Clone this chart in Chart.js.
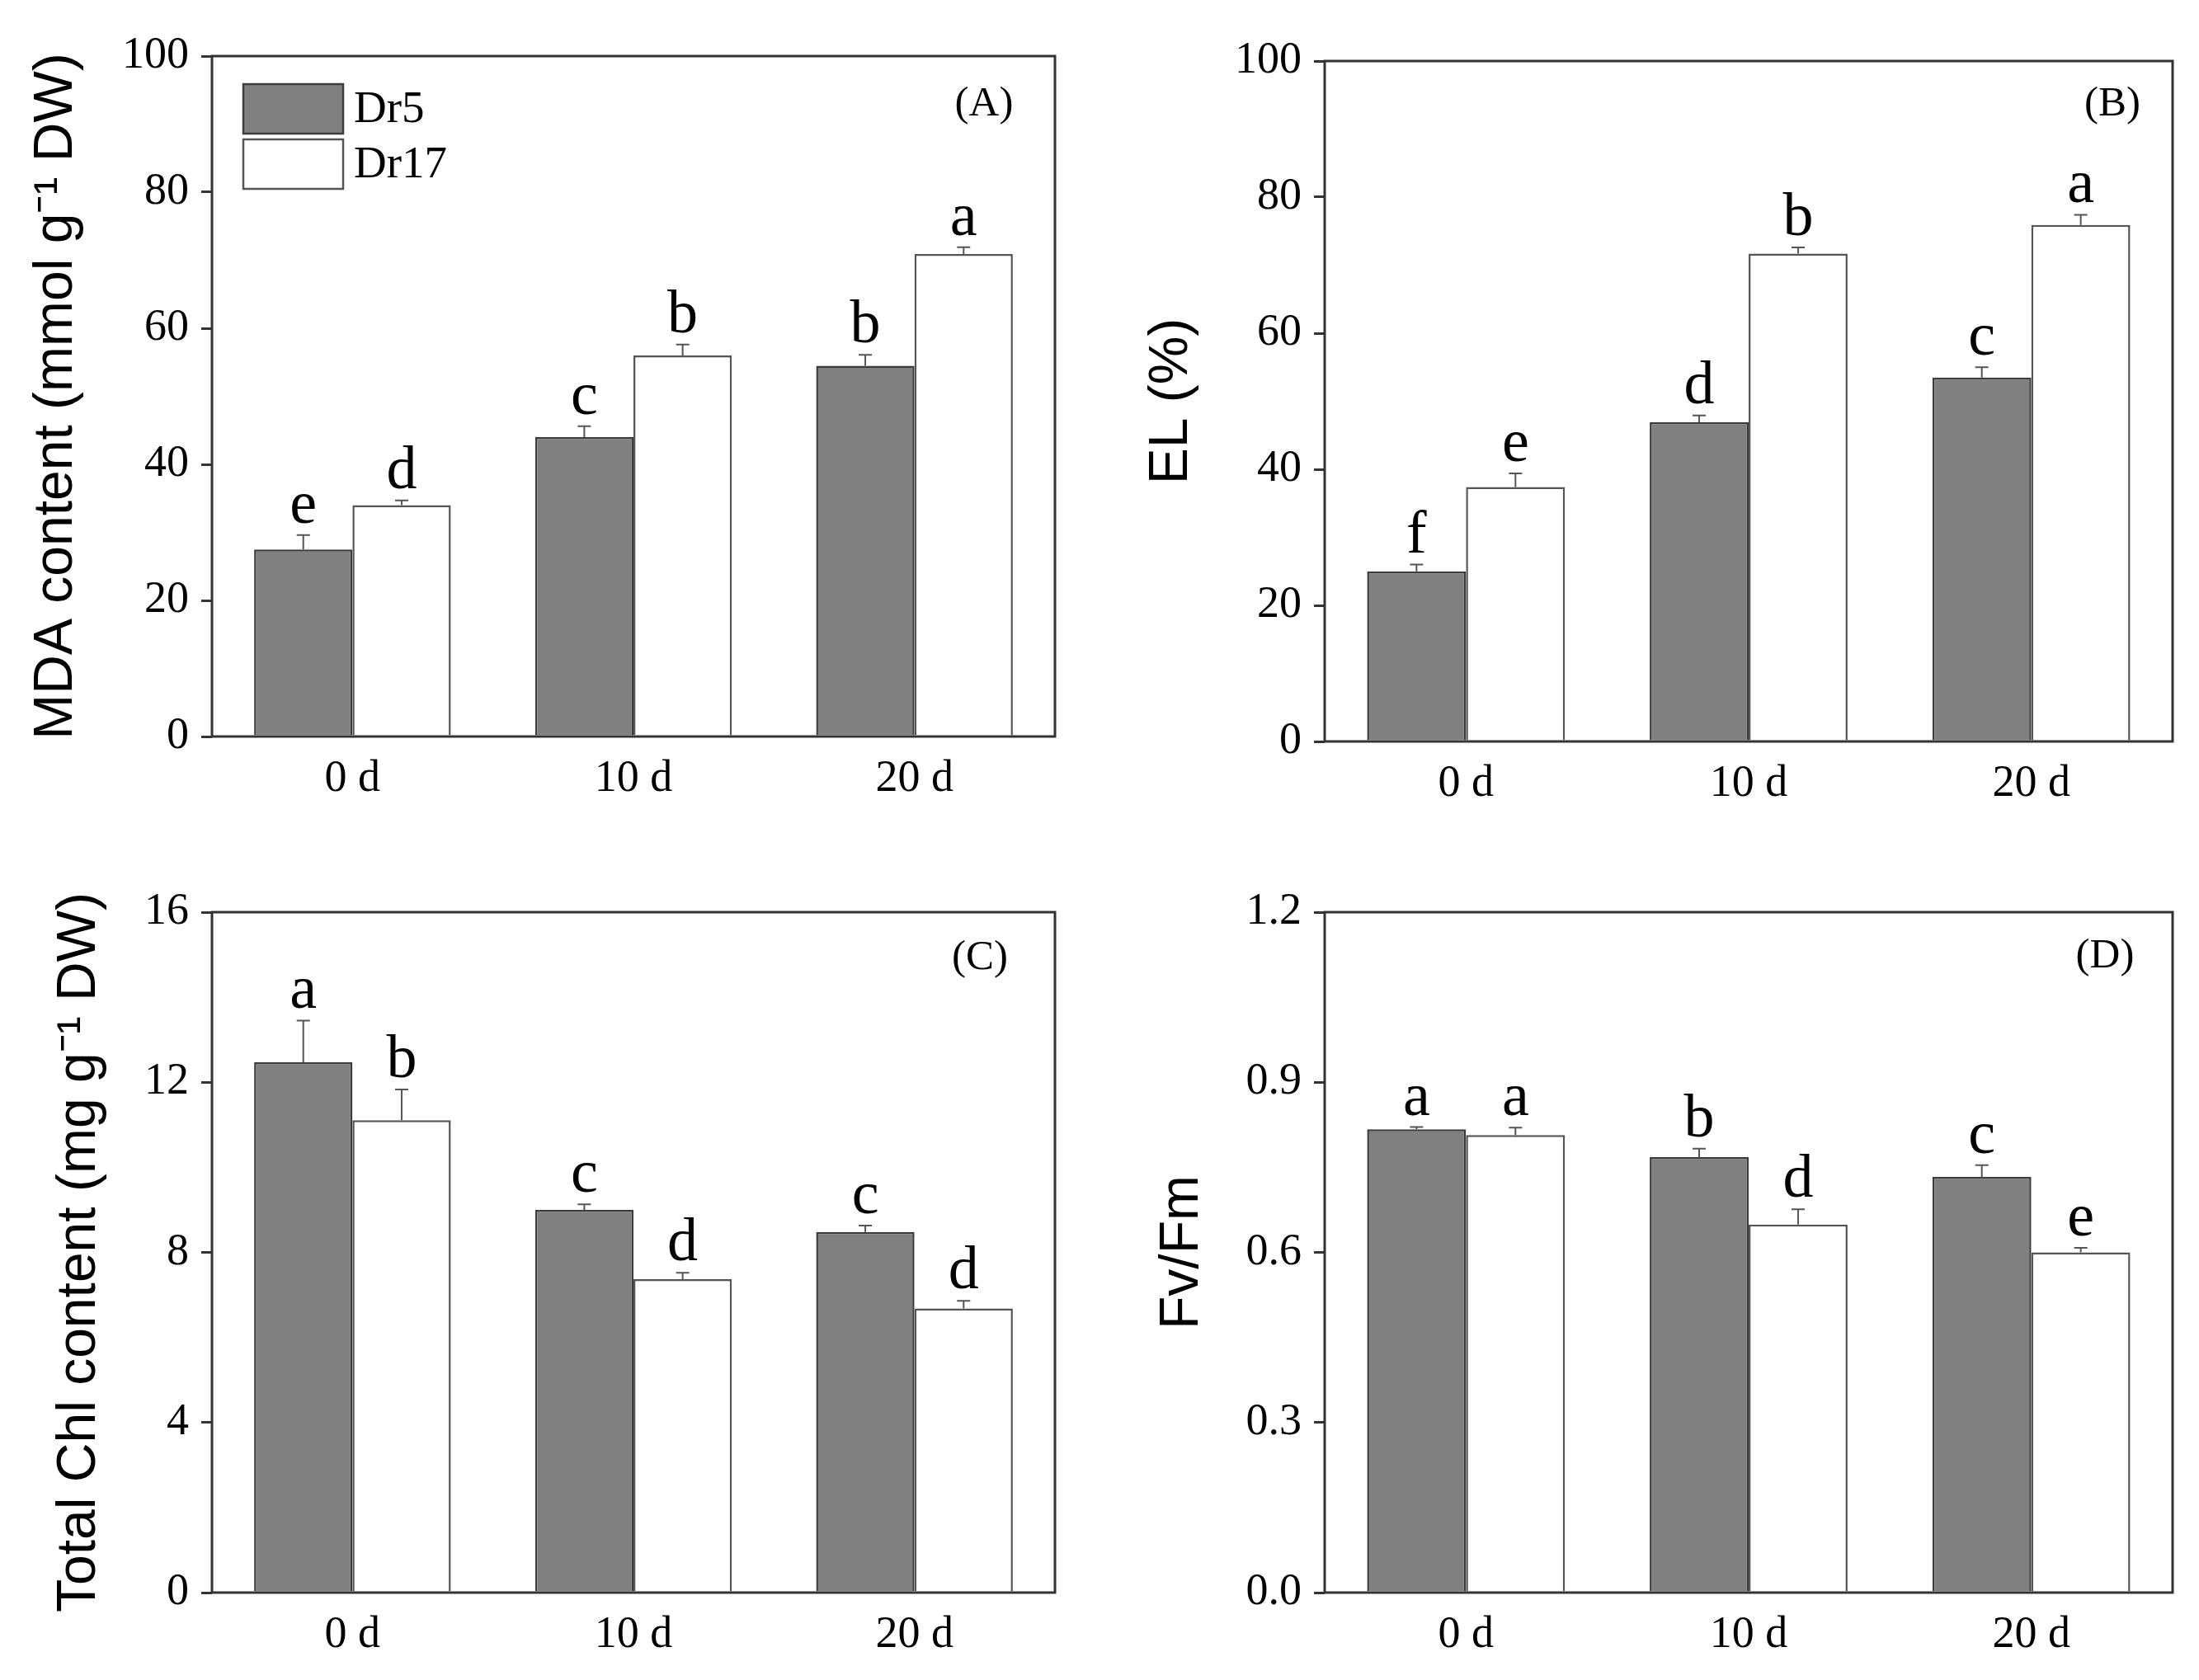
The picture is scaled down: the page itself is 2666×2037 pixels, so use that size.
<!DOCTYPE html>
<html>
<head>
<meta charset="utf-8">
<script src="https://cdn.jsdelivr.net/npm/chart.js@4.4.1/dist/chart.umd.min.js"></script>
<style>
html, body { margin: 0; padding: 0; background: #fff; }
#wrap { position: relative; width: 2666px; height: 2037px; }
canvas { position: absolute; }
</style>
</head>
<body>
<div id="wrap">
  <canvas id="panelA" width="1333" height="1018" style="left:0;top:0;width:1333px;height:1018px"></canvas>
  <canvas id="panelB" width="1333" height="1018" style="left:1333px;top:0;width:1333px;height:1018px"></canvas>
  <canvas id="panelC" width="1333" height="1019" style="left:0;top:1018px;width:1333px;height:1019px"></canvas>
  <canvas id="panelD" width="1333" height="1019" style="left:1333px;top:1018px;width:1333px;height:1019px"></canvas>
</div>
<script>
// categories and cultivars
const days = ['0 d', '10 d', '20 d'];
const cultivars = ['Dr5', 'Dr17'];

// (A) MDA content
const mdaDr5 = [27.5, 44.0, 54.5];
const mdaDr17 = [34.0, 56.0, 70.9];
const mdaErrDr5 = [2.1, 1.6, 1.6];
const mdaErrDr17 = [0.7, 1.6, 1.0];
const mdaLettersDr5 = ['e', 'c', 'b'];
const mdaLettersDr17 = ['d', 'b', 'a'];
const mdaTicks = [0, 20, 40, 60, 80, 100];

// (B) EL
const elDr5 = [25.0, 46.9, 53.5];
const elDr17 = [37.4, 71.7, 75.9];
const elErrDr5 = [1.0, 1.0, 1.5];
const elErrDr17 = [2.0, 0.9, 1.5];
const elLettersDr5 = ['f', 'd', 'c'];
const elLettersDr17 = ['e', 'b', 'a'];
const elTicks = [0, 20, 40, 60, 80, 100];

// (C) Total Chl content
const chlDr5 = [12.47, 9.0, 8.48];
const chlDr17 = [11.11, 7.37, 6.68];
const chlErrDr5 = [0.98, 0.13, 0.15];
const chlErrDr17 = [0.72, 0.15, 0.18];
const chlLettersDr5 = ['a', 'c', 'c'];
const chlLettersDr17 = ['b', 'd', 'd'];
const chlTicks = [0, 4, 8, 12, 16];

// (D) Fv/Fm
const fvDr5 = [0.817, 0.768, 0.733];
const fvDr17 = [0.807, 0.649, 0.600];
const fvErrDr5 = [0.004, 0.015, 0.021];
const fvErrDr17 = [0.013, 0.027, 0.008];
const fvLettersDr5 = ['a', 'b', 'c'];
const fvLettersDr17 = ['a', 'd', 'e'];
const fvTicks = [0, 0.3, 0.6, 0.9, 1.2];
const fvTickLabels = ['0.0', '0.3', '0.6', '0.9', '1.2'];

const SERIF = '"Liberation Serif", "Times New Roman", serif';
const SANS = '"Liberation Sans", Arial, sans-serif';
const AXIS = '#333';

// error bars + significance letters
const errorLetters = {
  id: 'errorLetters',
  afterDatasetsDraw(chart) {
    const ctx = chart.ctx;
    const y = chart.scales.y;
    chart.data.datasets.forEach((ds, i) => {
      const meta = chart.getDatasetMeta(i);
      meta.data.forEach((bar, j) => {
        const top = y.getPixelForValue(ds.data[j] + ds.errors[j]);
        ctx.save();
        ctx.strokeStyle = '#555';
        ctx.lineWidth = 2;
        ctx.beginPath();
        ctx.moveTo(bar.x, bar.y);
        ctx.lineTo(bar.x, top);
        ctx.moveTo(bar.x - 8, top);
        ctx.lineTo(bar.x + 8, top);
        ctx.stroke();
        ctx.fillStyle = '#000';
        ctx.font = '74px ' + SERIF;
        ctx.textAlign = 'center';
        ctx.textBaseline = 'alphabetic';
        ctx.fillText(ds.letters[j], bar.x, top - 15);
        ctx.restore();
      });
    });
  }
};

// box frame, panel tag and legend
const frameAndTags = {
  id: 'frameAndTags',
  afterDraw(chart, args, opts) {
    const ctx = chart.ctx;
    const a = chart.chartArea;
    ctx.save();
    ctx.strokeStyle = AXIS;
    ctx.lineWidth = 3;
    ctx.strokeRect(a.left, a.top, a.right - a.left, a.bottom - a.top);

    ctx.fillStyle = '#000';
    ctx.font = '51px ' + SERIF;
    ctx.textAlign = 'center';
    ctx.textBaseline = 'middle';
    ctx.fillText(opts.tag, a.right - opts.tagDx, a.top + opts.tagDy);

    if (opts.legend) {
      const bx = a.left + 38, by = a.top + 34, bw = 121, bh = 60, gap = 7;
      chart.data.datasets.forEach((ds, k) => {
        const yy = by + k * (bh + gap);
        ctx.fillStyle = ds.backgroundColor;
        ctx.fillRect(bx, yy, bw, bh);
        ctx.strokeStyle = ds.borderColor;
        ctx.lineWidth = 2.5;
        ctx.strokeRect(bx, yy, bw, bh);
        ctx.fillStyle = '#000';
        ctx.font = '55px ' + SERIF;
        ctx.textAlign = 'left';
        ctx.textBaseline = 'middle';
        ctx.fillText(ds.label, bx + bw + 13, yy + bh / 2 + 2);
      });
    }
    ctx.restore();
  }
};

function makePanel(id, p) {
  const canvas = document.getElementById(id);
  const ctx = canvas.getContext('2d');
  return new Chart(ctx, {
    type: 'bar',
    data: {
      labels: days,
      datasets: [
        {
          label: cultivars[0],
          data: p.dr5,
          errors: p.errDr5,
          letters: p.letDr5,
          backgroundColor: '#808080',
          borderColor: '#3c3c3c',
          borderWidth: 2.5,
          categoryPercentage: 0.7,
          barPercentage: 1.0
        },
        {
          label: cultivars[1],
          data: p.dr17,
          errors: p.errDr17,
          letters: p.letDr17,
          backgroundColor: '#ffffff',
          borderColor: '#555555',
          borderWidth: 2.5,
          categoryPercentage: 0.7,
          barPercentage: 1.0
        }
      ]
    },
    options: {
      responsive: false,
      animation: false,
      devicePixelRatio: 1,
      layout: { padding: { left: 0, top: p.top, right: p.right, bottom: 0 } },
      plugins: {
        legend: { display: false },
        tooltip: { enabled: false },
        frameAndTags: { tag: p.tag, tagDx: p.tagDx, tagDy: p.tagDy, legend: !!p.legend }
      },
      scales: {
        x: {
          grid: { display: false },
          border: { display: false },
          ticks: { color: '#000', font: { family: SERIF, size: 54 }, padding: 11 },
          afterFit: (s) => { s.height = p.xH; }
        },
        y: {
          min: p.ticks[0],
          max: p.ticks[p.ticks.length - 1],
          afterBuildTicks: (s) => { s.ticks = p.ticks.map(v => ({ value: v })); },
          grid: { drawOnChartArea: false, drawTicks: true, tickLength: 13, lineWidth: 3, color: AXIS },
          border: { display: false },
          ticks: {
            color: '#000',
            font: { family: SERIF, size: 54 },
            padding: 15,
            callback: (v, i) => p.tickLabels ? p.tickLabels[i] : String(v)
          },
          title: {
            display: true,
            text: p.title,
            color: '#000',
            font: { family: SANS, size: 66, lineHeight: 1.2 },
            padding: { top: p.titlePad, bottom: 0 }
          },
          afterFit: (s) => { s.width = p.axisW; }
        }
      }
    },
    plugins: [errorLetters, frameAndTags]
  });
}

makePanel('panelA', {
  dr5: mdaDr5, dr17: mdaDr17, errDr5: mdaErrDr5, errDr17: mdaErrDr17,
  letDr5: mdaLettersDr5, letDr17: mdaLettersDr17, ticks: mdaTicks,
  title: 'MDA content (mmol g\u207B\u00B9 DW)', tag: '(A)', legend: true,
  axisW: 257, top: 68, right: 54, xH: 125, titlePad: 29, tagDx: 86, tagDy: 59
});
makePanel('panelB', {
  dr5: elDr5, dr17: elDr17, errDr5: elErrDr5, errDr17: elErrDr17,
  letDr5: elLettersDr5, letDr17: elLettersDr17, ticks: elTicks,
  title: 'EL (%)', tag: '(B)',
  axisW: 273, top: 74, right: 32, xH: 119, titlePad: 48, tagDx: 73, tagDy: 53
});
makePanel('panelC', {
  dr5: chlDr5, dr17: chlDr17, errDr5: chlErrDr5, errDr17: chlErrDr17,
  letDr5: chlLettersDr5, letDr17: chlLettersDr17, ticks: chlTicks,
  title: 'Total Chl content (mg g\u207B\u00B9 DW)', tag: '(C)',
  axisW: 257, top: 88, right: 54, xH: 106, titlePad: 57, tagDx: 91, tagDy: 56
});
makePanel('panelD', {
  dr5: fvDr5, dr17: fvDr17, errDr5: fvErrDr5, errDr17: fvErrDr17,
  letDr5: fvLettersDr5, letDr17: fvLettersDr17, ticks: fvTicks, tickLabels: fvTickLabels,
  title: 'Fv/Fm', tag: '(D)',
  axisW: 273, top: 88, right: 32, xH: 106, titlePad: 61, tagDx: 82, tagDy: 54
});
</script>
</body>
</html>
